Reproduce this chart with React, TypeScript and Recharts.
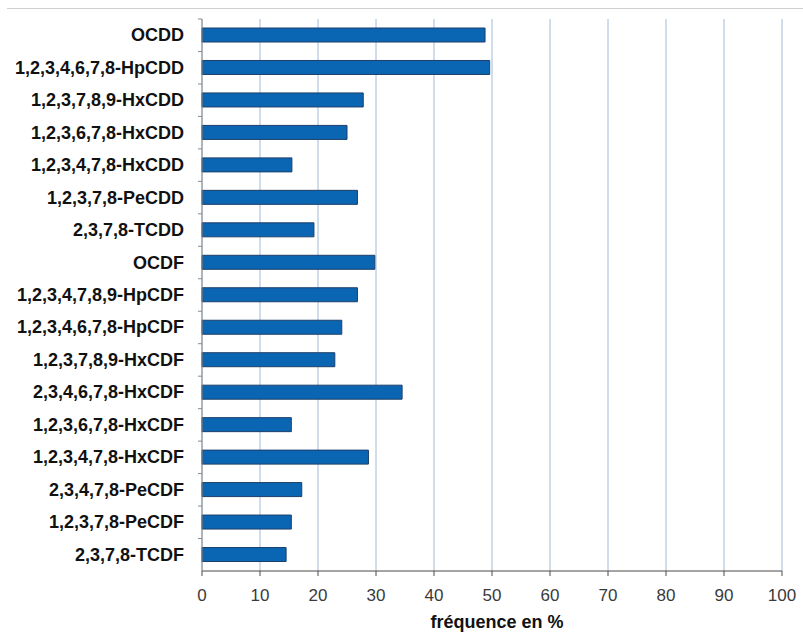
import { BarChart, Bar, XAxis, YAxis, CartesianGrid } from 'recharts';

// congeners, top to bottom as drawn
const congeners = [
  'OCDD',
  '1,2,3,4,6,7,8-HpCDD',
  '1,2,3,7,8,9-HxCDD',
  '1,2,3,6,7,8-HxCDD',
  '1,2,3,4,7,8-HxCDD',
  '1,2,3,7,8-PeCDD',
  '2,3,7,8-TCDD',
  'OCDF',
  '1,2,3,4,7,8,9-HpCDF',
  '1,2,3,4,6,7,8-HpCDF',
  '1,2,3,7,8,9-HxCDF',
  '2,3,4,6,7,8-HxCDF',
  '1,2,3,6,7,8-HxCDF',
  '1,2,3,4,7,8-HxCDF',
  '2,3,4,7,8-PeCDF',
  '1,2,3,7,8-PeCDF',
  '2,3,7,8-TCDF',
];

// fréquence en %
const frequencies = [
  48.8, 49.6, 27.8, 25.0, 15.5, 26.8, 19.3, 29.8, 26.8, 24.1, 22.9, 34.5, 15.4, 28.7, 17.2, 15.4, 14.5,
];

const xTicks = [0, 10, 20, 30, 40, 50, 60, 70, 80, 90, 100];

const data = congeners.map((name, i) => ({ name, value: frequencies[i] }));

const W = 803;
const H = 634;
const MARGIN = { top: 19, right: 21, left: 0, bottom: 0 };
const X_AXIS_H = 63;
const Y_AXIS_W = 202;
const FONT = '"Liberation Sans", Arial, Helvetica, sans-serif';

const plotH = H - MARGIN.top - MARGIN.bottom - X_AXIS_H;
const band = plotH / congeners.length;

// category label plus a small tick at the band's upper edge, like the original
const CategoryTick = (props: any) => {
  const { y, payload } = props;
  const axisX = MARGIN.left + Y_AXIS_W;
  const top = y - band / 2;
  return (
    <g>
      <line x1={axisX - 4} x2={axisX} y1={top} y2={top} stroke="#8a8a8a" strokeWidth={1} />
      <text
        x={axisX - 18}
        y={y}
        textAnchor="end"
        dominantBaseline="central"
        fontFamily={FONT}
        fontWeight="bold"
        fontSize={18}
        fill="#111"
      >
        {payload.value}
      </text>
    </g>
  );
};

export default function App() {
  return (
    <div style={{ position: 'absolute', left: 0, top: 0, width: W, height: H, background: '#fff' }}>
      <div style={{ position: 'absolute', left: 7, right: 0, top: 8, height: 1, background: '#cfcfcf' }} />
      <BarChart
        width={W}
        height={H}
        data={data}
        layout="vertical"
        margin={MARGIN}
        barCategoryGap={0}
      >
        <CartesianGrid horizontal={false} vertical={true} stroke="#a3bad6" strokeWidth={1} />
        <XAxis
          type="number"
          domain={[0, 100]}
          ticks={xTicks}
          interval={0}
          height={X_AXIS_H}
          axisLine={{ stroke: '#4a4a4a', strokeWidth: 1 }}
          tickLine={{ stroke: '#4a4a4a' }}
          tickSize={5}
          tickMargin={13}
          tick={{ fontFamily: FONT, fontSize: 17, fill: '#3a3a3a' }}
          label={{
            value: 'fréquence en %',
            position: 'insideBottom',
            offset: 6,
            dx: 5,
            style: { fontFamily: FONT, fontWeight: 'bold', fontSize: 18, fill: '#111' },
          }}
        />
        <YAxis
          type="category"
          dataKey="name"
          width={Y_AXIS_W}
          interval={0}
          axisLine={{ stroke: '#8a8a8a', strokeWidth: 1 }}
          tickLine={false}
          tick={<CategoryTick />}
        />
        <Bar
          dataKey="value"
          fill="#0a66b2"
          stroke="#1d3f6a"
          strokeWidth={1}
          barSize={14}
          isAnimationActive={false}
        />
      </BarChart>
    </div>
  );
}
